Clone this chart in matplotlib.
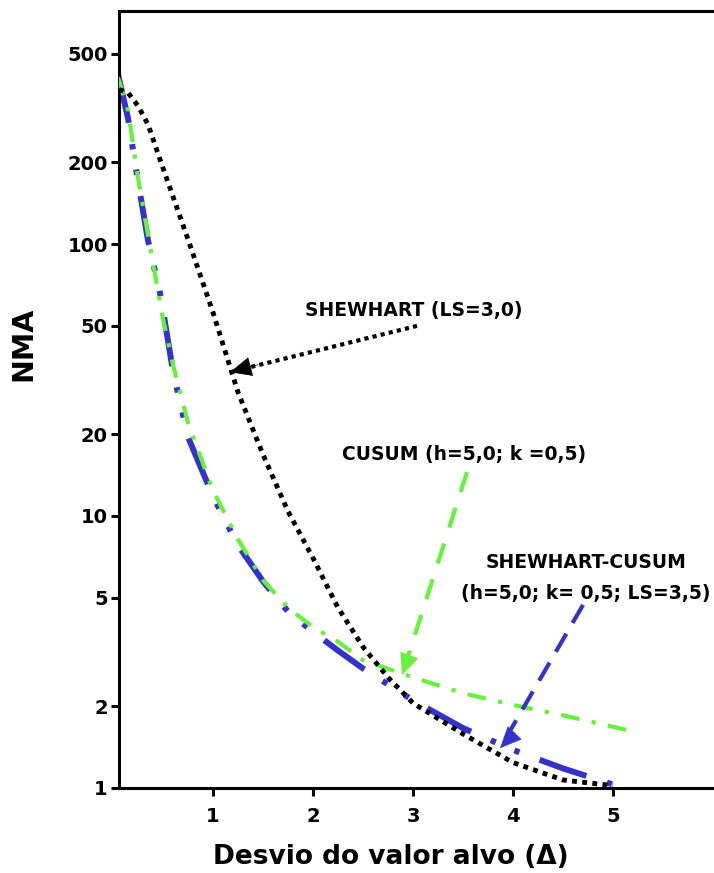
import numpy as np
import matplotlib
matplotlib.use('Agg')
import matplotlib.pyplot as plt

# NMA (ARL) vs shift
shew_x = [0.06, 0.15, 0.25, 0.35, 0.5, 0.75, 1.0, 1.25, 1.5, 1.75, 2.0, 2.25, 2.5, 2.75, 3.0, 3.5, 4.0, 4.5, 5.0]
shew_y = [370, 360, 322, 275, 190, 104, 56, 28.5, 16.8, 10.4, 7.0, 4.6, 3.3, 2.55, 2.05, 1.58, 1.24, 1.07, 1.02]

cusum_x = [0.05, 0.15, 0.25, 0.35, 0.45, 0.5, 0.6, 0.75, 1.0, 1.25, 1.5, 1.75, 2.0, 2.25, 2.5, 3.0, 3.5, 4.0, 4.5, 5.15]
cusum_y = [410, 310, 175, 108, 67, 53, 36, 22, 12.4, 8.2, 5.8, 4.6, 3.9, 3.45, 2.95, 2.55, 2.23, 2.02, 1.85, 1.63]

sc_x = [0.05, 0.15, 0.25, 0.35, 0.47, 0.5, 0.6, 0.75, 1.0, 1.25, 1.5, 1.75, 2.0, 2.25, 2.5, 3.0, 3.5, 4.0, 4.5, 5.0]
sc_y = [420, 290, 170, 103, 66, 57, 34, 19.5, 11.8, 7.8, 5.75, 4.45, 3.75, 3.2, 2.75, 2.1, 1.66, 1.38, 1.18, 1.03]

yticks = [1, 2, 5, 10, 20, 50, 100, 200, 500]
xticks = [1, 2, 3, 4, 5]

blue = '#3333CC'
green = '#66F23A'

fig = plt.figure(figsize=(7.14, 8.73), dpi=100)
ax = fig.add_axes([0.1667, 0.0974, 0.8333, 0.89])

ax.plot(sc_x, sc_y, color=blue, lw=4.3, dash_capstyle='butt',
        linestyle=(0, (8.3, 3.6, 0.9, 3.4, 0.9, 3.6)), zorder=2)
ax.plot(cusum_x, cusum_y, color=green, lw=3.0, dash_capstyle='butt',
        linestyle=(0, (4.5, 3.0, 1.0, 3.0)), zorder=3)
ax.plot(shew_x, shew_y, color='black', lw=3.5, dash_capstyle='butt',
        linestyle=(0, (1, 1.1)), zorder=4)

ax.set_yscale('log')
ax.set_ylim(1, 719)
ax.set_xlim(0.06, 6.01)
ax.set_yticks(yticks)
ax.set_yticklabels([str(v) for v in yticks])
ax.minorticks_off()
ax.set_xticks(xticks)

for s in ['left', 'bottom', 'top']:
    ax.spines[s].set_linewidth(2.2)
ax.spines['right'].set_visible(False)
ax.tick_params(axis='both', length=6, width=2.2, labelsize=14)
ax.tick_params(axis='y', pad=2)
ax.tick_params(axis='x', pad=8)
for lab in ax.get_xticklabels() + ax.get_yticklabels():
    lab.set_fontweight('bold')

ax.set_xlabel('Desvio do valor alvo (\u0394)', fontsize=19, fontweight='bold', va='center')
ax.xaxis.set_label_coords(0.457, -0.0888)
ax.set_ylabel('NMA', fontsize=20.5, fontweight='bold', va='center')
ax.yaxis.set_label_coords(-0.160, 0.571)

txt = dict(fontsize=13.5, fontweight='bold', va='center')


def arrow(start, tip, color, ls, back):
    ax.annotate('', xy=tip, xytext=start,
                arrowprops=dict(arrowstyle='-', color=color, lw=3.0, linestyle=ls,
                                shrinkA=0, shrinkB=0, capstyle='butt'), zorder=5)
    ax.annotate('', xy=tip, xytext=back,
                arrowprops=dict(arrowstyle='-|>,head_length=1.45,head_width=0.65', color=color,
                                lw=0.5, shrinkA=0, shrinkB=0), zorder=5)


ax.text(1.92, 57, 'SHEWHART (LS=3,0)', ha='left', **txt)
arrow((3.04, 50), (1.17, 33.8), 'black', (0, (1, 1)), (1.45, 36))

ax.text(2.29, 16.8, 'CUSUM (h=5,0; k =0,5)', ha='left', **txt)
arrow((3.54, 14.5), (2.89, 2.6), green, (0, (5, 4)), (2.98, 3.2))

ax.text(4.73, 6.72, 'SHEWHART-CUSUM', ha='center', **txt)
ax.text(4.73, 5.21, '(h=5,0; k= 0,5; LS=3,5)', ha='center', **txt)
arrow((4.70, 4.71), (3.87, 1.40), blue, (0, (5, 3)), (4.02, 1.6))

fig.savefig('out.png', dpi=100)
